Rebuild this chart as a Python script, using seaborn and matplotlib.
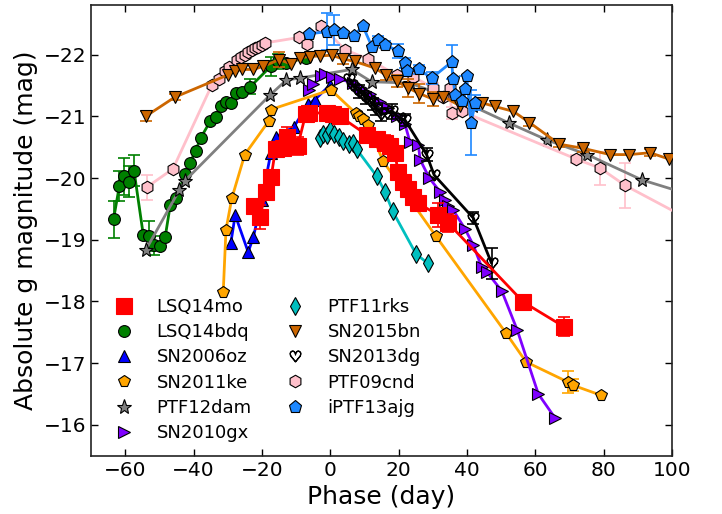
import numpy as np
import pandas as pd
import matplotlib
matplotlib.use("Agg")
import matplotlib.pyplot as plt
from matplotlib.lines import Line2D
import seaborn as sns

# ---------------- data (phase in days, absolute g magnitude, error) ----------------
lsq14mo_x = [-22.2, -20.6, -18.8, -17.3, -16.0, -13.8, -12.5, -9.5, -7.2, -6.3, -1.0, 0.8, 2.8,
             10.7, 13.8, 16.0, 17.5, 18.9, 19.9, 21.4, 22.8, 24.3, 25.8, 31.6, 34.5, 56.5, 68.4]
lsq14mo_y = [-19.55, -19.37, -19.78, -20.01, -20.47, -20.48, -20.67, -20.52, -21.03, -21.06, -21.05,
             -21.04, -21.0, -20.70, -20.64, -20.57, -20.52, -20.40, -20.10, -19.94, -19.83, -19.70,
             -19.59, -19.40, -19.27, -17.99, -17.59]
lsq14mo_e = [0.0, 0.2, 0.0, 0.0, 0.0, 0.0, 0.15, 0.15, 0.1, 0.0, 0.0, 0.0, 0.0,
             0.0, 0.0, 0.12, 0.0, 0.1, 0.0, 0.0, 0.0, 0.1, 0.12, 0.2, 0.15, 0.06, 0.15]

lsq14bdq_x = [-63.4, -61.7, -60.3, -58.8, -57.4, -54.7, -53.0, -51.5, -49.9, -48.3, -46.8, -45.2,
              -42.4, -41.0, -39.4, -37.9, -35.1, -33.5, -32.0, -30.5, -29.1, -27.6, -25.9, -23.4,
              -17.4, -15.2, -12.8, -7.0]
lsq14bdq_y = [-19.33, -19.87, -20.03, -19.94, -20.12, -19.08, -19.06, -18.91, -18.90, -19.04, -19.56,
              -19.67, -20.06, -20.25, -20.44, -20.65, -20.92, -20.99, -21.16, -21.24, -21.22, -21.38,
              -21.40, -21.48, -21.81, -21.89, -21.87, -21.95]
lsq14bdq_e = [0.3, 0.25, 0.3, 0.25, 0.25, 0.0, 0.25, 0.15, 0.0, 0.0, 0.0, 0.0,
              0.0, 0.0, 0.0, 0.0, 0.0, 0.0, 0.0, 0.0, 0.0, 0.0, 0.0, 0.12,
              0.15, 0.12, 0.0, 0.0]

sn2006oz_x = [-29.1, -27.8, -24.0, -22.5, -20.0, -17.4, -15.9, -10.6, -6.5, -4.5, 0.0]
sn2006oz_y = [-18.94, -19.40, -18.80, -19.04, -19.65, -20.40, -20.67, -20.83, -21.20, -21.27, -21.51]

sn2011ke_x = [-31.3, -30.5, -28.8, -25.0, -17.9, -17.4, 0.2, 7.5, 8.5, 9.7, 11.1, 15.5, 30.9,
              51.4, 57.3, 69.7, 71.1, 79.2]
sn2011ke_y = [-18.15, -19.16, -19.67, -20.38, -20.93, -21.11, -21.43, -21.05, -21.00, -20.96, -20.86,
              -20.27, -19.06, -17.49, -17.02, -16.69, -16.64, -16.48]
sn2011ke_e = [0.0] * 15 + [0.18, 0.1, 0.0]

ptf12dam_x = [-53.9, -44.2, -42.6, -17.7, -12.8, -8.9, 6.3, 12.1, 23.3, 41.9, 52.4, 63.3, 75.2,
              91.2, 110.0]
ptf12dam_y = [-18.84, -19.80, -19.95, -21.34, -21.59, -21.62, -21.76, -21.56, -21.54, -21.16, -20.89,
              -20.62, -20.38, -19.97, -19.65]

sn2010gx_x = [-6.2, -5.0, -2.7, -1.5, 0.5, 3.0, 6.7, 9.0, 11.5, 14.5, 17.0, 19.5, 21.9, 23.3,
              25.8, 26.3, 29.0, 32.1, 33.6, 34.5, 36.0, 39.4, 41.9, 44.3, 45.8, 50.2, 54.7, 60.9, 65.8]
sn2010gx_y = [-21.42, -21.52, -21.65, -21.68, -21.64, -21.60, -21.54, -21.46, -21.36, -21.24, -21.13,
              -21.00, -20.87, -20.59, -20.54, -20.30, -20.00, -19.78, -19.64, -19.54, -19.48, -19.18,
              -18.91, -18.56, -18.48, -18.17, -17.54, -16.50, -16.11]

ptf11rks_x = [-3.0, -2.0, -1.0, 0.0, 1.0, 2.6, 3.8, 5.6, 6.7, 7.7, 13.6, 16.0, 18.3, 25.1, 28.5]
ptf11rks_y = [-20.65, -20.72, -20.70, -20.78, -20.72, -20.67, -20.60, -20.55, -20.57, -20.47, -20.03,
              -19.78, -19.46, -18.77, -18.62]

sn2015bn_x = [-54.0, -45.5, -30.0, -28.0, -25.9, -22.5, -19.6, -14.9, -11.5, -8.9, -5.9, -3.0, 0.4,
              3.8, 7.2, 13.2, 16.2, 19.4, 22.8, 26.1, 30.0, 33.1, 38.0, 44.3, 48.2, 53.6, 58.3, 67.0,
              74.1, 81.9, 87.5, 93.6, 99.0]
sn2015bn_y = [-21.00, -21.31, -21.67, -21.73, -21.76, -21.76, -21.81, -21.92, -21.85, -21.95, -21.97,
              -21.98, -21.99, -21.93, -21.89, -21.78, -21.67, -21.57, -21.46, -21.37, -21.28, -21.32,
              -21.17, -21.22, -21.16, -21.08, -20.90, -20.55, -20.48, -20.38, -20.38, -20.41, -20.31]
sn2015bn_e = [0.08, 0.05, 0.0, 0.0, 0.0, 0.0, 0.0, 0.12, 0.0, 0.0, 0.0, 0.0, 0.0,
              0.08, 0.0, 0.0, 0.08, 0.1, 0.15, 0.15, 0.12, 0.0, 0.0, 0.0, 0.0, 0.0, 0.06, 0.05,
              0.06, 0.0, 0.0, 0.06, 0.0]

sn2013dg_x = [5.5, 6.5, 7.5, 8.5, 9.5, 10.5, 11.5, 12.5, 13.5, 15.0, 16.5, 18.0, 20.4, 21.9, 28.2,
              30.4, 41.9, 47.2]
sn2013dg_y = [-21.60, -21.50, -21.45, -21.40, -21.35, -21.30, -21.25, -21.20, -21.12, -21.03, -21.05,
              -21.08, -20.97, -20.94, -20.38, -20.05, -19.35, -18.62]
sn2013dg_e = [0.0, 0.0, 0.0, 0.1, 0.0, 0.1, 0.0, 0.1, 0.1, 0.1, 0.0, 0.12, 0.0, 0.1, 0.1,
              0.0, 0.1, 0.25]

ptf09cnd_x = [-53.7, -46.0, -34.7, -32.4, -30.8, -29.5, -27.2, -26.0, -25.0, -24.0, -23.0, -22.0,
              -21.0, -20.0, -19.0, -9.0, -6.9, -2.6, 4.3, 11.1, 19.4, 24.3, 30.2, 33.1, 35.0, 35.5,
              38.5, 71.9, 79.0, 86.3, 105.0]
ptf09cnd_y = [-19.85, -20.15, -21.50, -21.60, -21.73, -21.80, -21.92, -21.97, -22.00, -22.05, -22.08,
              -22.10, -22.13, -22.15, -22.19, -22.28, -22.18, -22.47, -22.08, -21.93, -21.67, -21.64,
              -21.46, -21.32, -21.46, -21.05, -21.08, -20.31, -20.16, -19.88, -19.33]
ptf09cnd_e = [0.2] + [0.0] * 21 + [0.08, 0.0, 0.0, 0.1, 0.0, 0.06, 0.27, 0.37, 0.0]

iptf13ajg_x = [-6.1, -1.0, 1.2, 3.8, 7.0, 9.5, 12.2, 14.0, 16.0, 19.9, 21.9, 22.6, 26.0, 29.7, 35.5,
               36.0, 36.5, 38.5, 39.4, 39.9, 41.2, 42.5]
iptf13ajg_y = [-22.34, -22.37, -22.40, -22.35, -22.30, -22.47, -22.13, -22.24, -22.16, -22.06, -21.87,
               -21.74, -21.76, -21.62, -21.88, -21.60, -21.35, -21.25, -21.45, -21.65, -20.90, -21.22]
iptf13ajg_e = [0.0, 0.3, 0.25, 0.0, 0.0, 0.0, 0.0, 0.06, 0.06, 0.12, 0.08, 0.0, 0.08, 0.1, 0.27,
               0.0, 0.0, 0.0, 0.2, 0.0, 0.53, 0.12]

names = ["LSQ14mo", "LSQ14bdq", "SN2006oz", "SN2011ke", "PTF12dam", "SN2010gx",
         "PTF11rks", "SN2015bn", "SN2013dg", "PTF09cnd", "iPTF13ajg"]

# ---------------- style ----------------
sns.set_style("ticks")
plt.rcParams.update({
    "font.family": ["DejaVu Sans"],
    "text.color": "black", "axes.labelcolor": "black",
    "xtick.color": "black", "ytick.color": "black",
    "xtick.direction": "in", "ytick.direction": "in",
    "xtick.top": True, "ytick.right": True,
    "xtick.major.size": 5, "ytick.major.size": 5,
    "xtick.major.width": 1, "ytick.major.width": 1,
    "axes.edgecolor": "#222222", "axes.linewidth": 1.2,
    "axes.unicode_minus": True,
})

fig = plt.figure(figsize=(7.22, 5.14), dpi=100)
ax = fig.add_axes([0.126, 0.1135, 0.8047, 0.8762])

series = {
    "LSQ14mo": (lsq14mo_x, lsq14mo_y, lsq14mo_e, dict(color="red", marker="s", ms=11, mec="red", zorder=8)),
    "LSQ14bdq": (lsq14bdq_x, lsq14bdq_y, lsq14bdq_e, dict(color="green", marker="o", ms=8.5, mec="k", zorder=3)),
    "SN2006oz": (sn2006oz_x, sn2006oz_y, None, dict(color="blue", marker="^", ms=9, mec="k", zorder=3)),
    "SN2011ke": (sn2011ke_x, sn2011ke_y, sn2011ke_e, dict(color="orange", marker="p", ms=8.5, mec="k", zorder=3)),
    "PTF12dam": (ptf12dam_x, ptf12dam_y, None, dict(color="grey", marker="*", ms=11, mec="k", zorder=3)),
    "SN2010gx": (sn2010gx_x, sn2010gx_y, None, dict(color="#7F00FF", marker=">", ms=9, mec="k", zorder=4)),
    "PTF11rks": (ptf11rks_x, ptf11rks_y, None, dict(color="#00BFBF", marker="d", ms=9, mec="k", zorder=4)),
    "SN2015bn": (sn2015bn_x, sn2015bn_y, sn2015bn_e, dict(color="#CC6600", marker="v", ms=9, mec="k", zorder=4)),
    "SN2013dg": (sn2013dg_x, sn2013dg_y, sn2013dg_e, dict(color="k", marker=r"$\heartsuit$", ms=8, mec="k", zorder=5)),
    "PTF09cnd": (ptf09cnd_x, ptf09cnd_y, ptf09cnd_e, dict(color="pink", marker="h", ms=9, mec="k", zorder=3)),
    "iPTF13ajg": (iptf13ajg_x, iptf13ajg_y, iptf13ajg_e, dict(color="#1E88FF", marker="p", ms=9.5, mec="k", zorder=4)),
}

handles = []
for name in names:
    xs, ys, es, st = series[name]
    df = pd.DataFrame({"phase": xs, "mag": ys})
    sns.lineplot(data=df, x="phase", y="mag", ax=ax, sort=False, estimator=None,
                 color=st["color"], lw=2, marker=st["marker"], markersize=st["ms"],
                 markeredgecolor=st["mec"], markeredgewidth=0.8, zorder=st["zorder"])
    if es is not None:
        e = np.asarray(es)
        m = e > 0
        ax.errorbar(np.asarray(xs)[m], np.asarray(ys)[m], yerr=e[m], fmt="none",
                    ecolor=st["color"], elinewidth=1.2, capsize=4, capthick=1.2,
                    zorder=st["zorder"] - 0.5)
    handles.append(Line2D([], [], ls="none", color=st["color"], marker=st["marker"],
                          markersize=st["ms"], markeredgecolor=st["mec"],
                          markeredgewidth=0.8, label=name))

ax.set_xlim(-70, 100)
ax.set_ylim(-15.5, -22.8)
ax.set_xticks(np.arange(-60, 101, 20))
ax.set_yticks(np.arange(-22, -15, 1))
ax.tick_params(labelsize=14.5)
ax.set_xlabel("Phase (day)", fontsize=18, labelpad=4)
ax.set_ylabel("Absolute g magnitude (mag)", fontsize=18, labelpad=4)

ax.legend(handles=handles, ncol=2, frameon=False, fontsize=13,
          loc="upper left", bbox_to_anchor=(106 / 722, 1 - 298 / 514),
          bbox_transform=fig.transFigure, borderpad=0, borderaxespad=0,
          handlelength=2, handletextpad=0.8, columnspacing=1.4, labelspacing=0.4,
          numpoints=1)

fig.savefig("out.png", dpi=100)
